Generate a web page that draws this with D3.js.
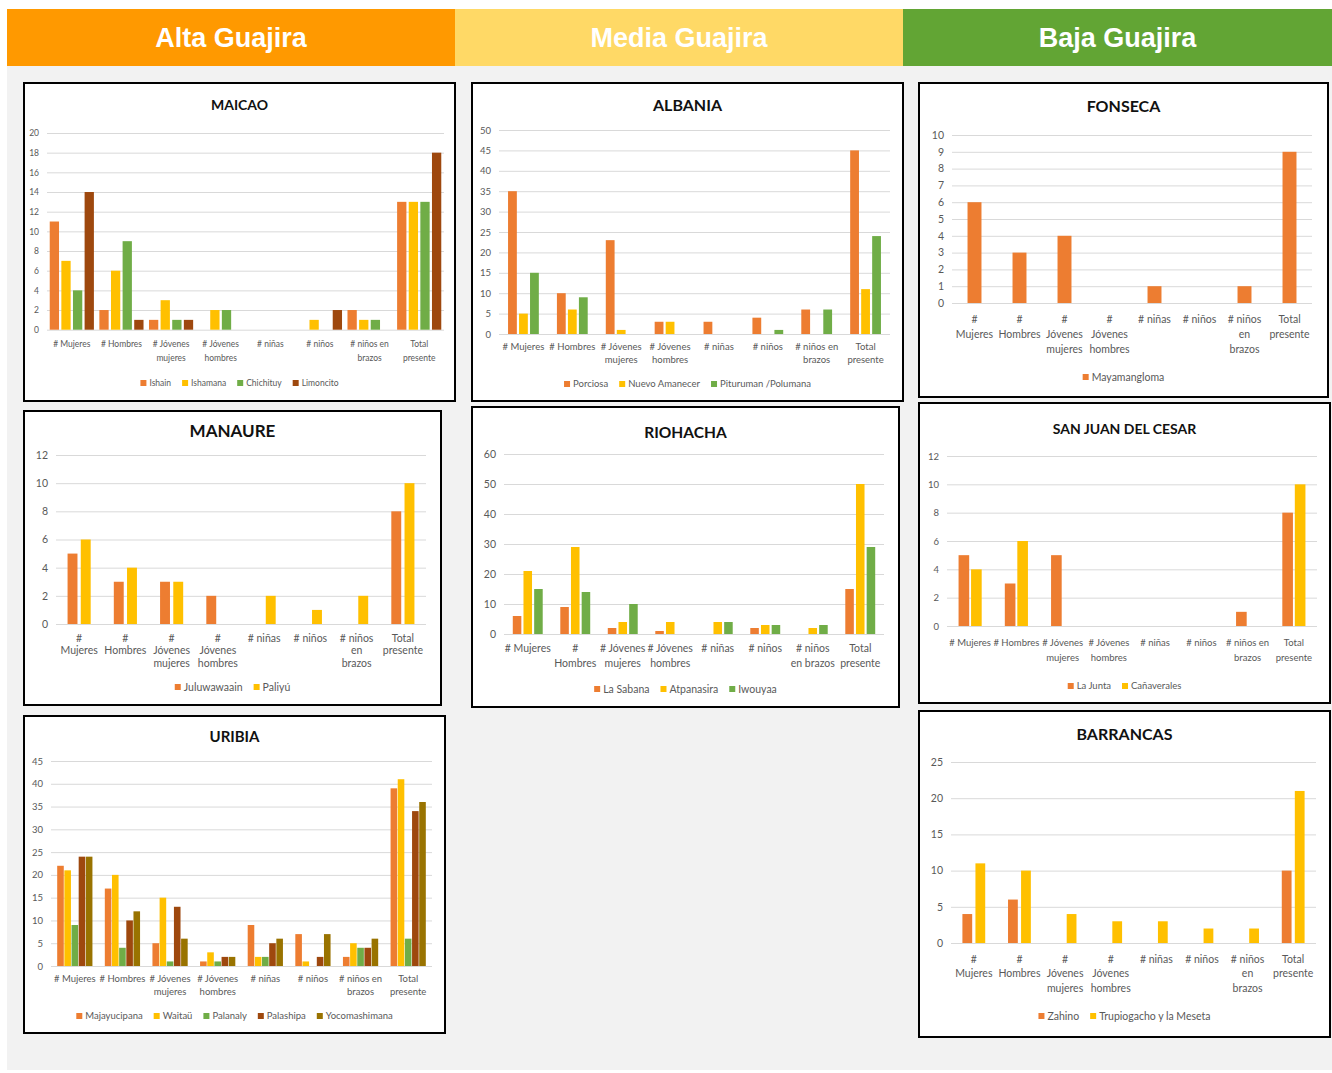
<!DOCTYPE html>
<html>
<head>
<meta charset="utf-8">
<script src="https://cdn.jsdelivr.net/npm/d3@7"></script>
<style>
  body { margin: 0; background: #fff; }
  svg text { font-family: Lato, "Liberation Sans", sans-serif; }
</style>
</head>
<body>
<svg id="chart" width="1332" height="1073"></svg>
<script>
// ---- data ----
const regions = ["Alta Guajira", "Media Guajira", "Baja Guajira"];

const labelsWide = ["# Mujeres", "# Hombres", "# Jóvenes|mujeres", "# Jóvenes|hombres", "# niñas", "# niños", "# niños en|brazos", "Total|presente"];
const labelsNarrow = ["#|Mujeres", "#|Hombres", "#|Jóvenes|mujeres", "#|Jóvenes|hombres", "# niñas", "# niños", "# niños|en|brazos", "Total|presente"];
const labelsRiohacha = ["# Mujeres", "#|Hombres", "# Jóvenes|mujeres", "# Jóvenes|hombres", "# niñas", "# niños", "# niños|en brazos", "Total|presente"];

const maicaoNames = ["Ishain", "Ishamana", "Chichituy", "Limoncito"];
const maicaoValues = [
  [11, 2, 1, 0, 0, 0, 2, 13],
  [7, 6, 3, 2, 0, 1, 1, 13],
  [4, 9, 1, 2, 0, 0, 1, 13],
  [14, 1, 1, 0, 0, 2, 0, 18]
];

const albaniaNames = ["Porciosa", "Nuevo Amanecer", "Pituruman /Polumana"];
const albaniaValues = [
  [35, 10, 23, 3, 3, 4, 6, 45],
  [5, 6, 1, 3, 0, 0, 0, 11],
  [15, 9, 0, 0, 0, 1, 6, 24]
];

const fonsecaNames = ["Mayamangloma"];
const fonsecaValues = [
  [6, 3, 4, 0, 1, 0, 1, 9]
];

const manaureNames = ["Juluwawaain", "Paliyú"];
const manaureValues = [
  [5, 3, 3, 2, 0, 0, 0, 8],
  [6, 4, 3, 0, 2, 1, 2, 10]
];

const riohachaNames = ["La Sabana", "Atpanasira", "Iwouyaa"];
const riohachaValues = [
  [6, 9, 2, 1, 0, 2, 0, 15],
  [21, 29, 4, 4, 4, 3, 2, 50],
  [15, 14, 10, 0, 4, 3, 3, 29]
];

const sanJuanNames = ["La Junta", "Cañaverales"];
const sanJuanValues = [
  [5, 3, 5, 0, 0, 0, 1, 8],
  [4, 6, 0, 0, 0, 0, 0, 10]
];

const uribiaNames = ["Majayucipana", "Waitaü", "Palanaly", "Palashipa", "Yocomashimana"];
const uribiaValues = [
  [22, 17, 5, 1, 9, 7, 2, 39],
  [21, 20, 15, 3, 2, 1, 5, 41],
  [9, 4, 1, 1, 2, 0, 4, 6],
  [24, 10, 13, 2, 5, 2, 4, 34],
  [24, 12, 6, 2, 6, 7, 6, 36]
];

const barrancasNames = ["Zahino", "Trupiogacho y la Meseta"];
const barrancasValues = [
  [4, 6, 0, 0, 0, 0, 0, 10],
  [11, 10, 4, 3, 3, 2, 2, 21]
];

// ---- styles / layout ----
const regionColors = ["#FF9900", "#FFD966", "#62A534"];
const regionEdges = [7, 455, 903, 1332];
const seriesColors = ["#ED7D31", "#FFC000", "#70AD47", "#9E480E", "#997300"];

const charts = [
  { title: "MAICAO", names: maicaoNames, values: maicaoValues, labels: labelsWide, yMax: 20, yStep: 2,
    box: [24, 83, 455, 401], px: [47, 444], yTop: 133, y0: 329.7, titleY: 105, titleFs: 14, fs: 8.5,
    labelY: 344, lineH: 14, legendY: 383, pad: 0.11, inner: 0.2 },
  { title: "ALBANIA", names: albaniaNames, values: albaniaValues, labels: labelsWide, yMax: 50, yStep: 5,
    box: [472, 83, 903, 401], px: [499, 890], yTop: 130, y0: 334, titleY: 105, titleFs: 16, fs: 9.5,
    labelY: 347, lineH: 13, legendY: 384, pad: 0.37, inner: 0.2 },
  { title: "FONSECA", names: fonsecaNames, values: fonsecaValues, labels: labelsNarrow, yMax: 10, yStep: 1,
    box: [919, 83, 1328, 397], px: [952, 1312], yTop: 135, y0: 303, titleY: 106, titleFs: 16, fs: 10.5,
    labelY: 319, lineH: 15, legendY: 377, pad: 0.69, inner: 0 },
  { title: "MANAURE", names: manaureNames, values: manaureValues, labels: labelsNarrow, yMax: 12, yStep: 2,
    box: [24, 411, 441, 705], px: [56, 426], yTop: 455, y0: 624, titleY: 431, titleFs: 17, fs: 10.5,
    labelY: 638, lineH: 12.5, legendY: 687, pad: 0.5, inner: 0.25 },
  { title: "RIOHACHA", names: riohachaNames, values: riohachaValues, labels: labelsRiohacha, yMax: 60, yStep: 10,
    box: [472, 407, 899, 707], px: [504, 884], yTop: 454, y0: 634, titleY: 433, titleFs: 15.5, fs: 10.5,
    labelY: 648, lineH: 15, legendY: 689, pad: 0.37, inner: 0.2 },
  { title: "SAN JUAN DEL CESAR", names: sanJuanNames, values: sanJuanValues, labels: labelsWide, yMax: 12, yStep: 2,
    box: [919, 403, 1330, 703], px: [947, 1317], yTop: 456, y0: 626, titleY: 429, titleFs: 14, fs: 9.5,
    labelY: 643, lineH: 15, legendY: 686, pad: 0.5, inner: 0.15 },
  { title: "URIBIA", names: uribiaNames, values: uribiaValues, labels: labelsWide, yMax: 45, yStep: 5,
    box: [24, 716, 445, 1033], px: [51, 432], yTop: 761, y0: 966, titleY: 737, titleFs: 15, fs: 9.5,
    labelY: 979, lineH: 13, legendY: 1016, pad: 0.26, inner: 0.08 },
  { title: "BARRANCAS", names: barrancasNames, values: barrancasValues, labels: labelsNarrow, yMax: 25, yStep: 5,
    box: [919, 711, 1330, 1037], px: [951, 1316], yTop: 762, y0: 943, titleY: 734, titleFs: 16, fs: 10.5,
    labelY: 959, lineH: 14.5, legendY: 1016, pad: 0.5, inner: 0.25 }
];

const svg = d3.select("#chart");

// background panel
svg.append("rect")
  .attr("x", 7).attr("y", 66).attr("width", 1325).attr("height", 1004)
  .attr("fill", "#F2F2F2");

// region header
const headG = svg.append("g").selectAll("g").data(regions).join("g");
headG.append("rect")
  .attr("x", (d, i) => regionEdges[i]).attr("y", 9)
  .attr("width", (d, i) => regionEdges[i + 1] - regionEdges[i]).attr("height", 57)
  .attr("fill", (d, i) => regionColors[i]);
headG.append("text")
  .attr("x", (d, i) => (regionEdges[i] + regionEdges[i + 1]) / 2).attr("y", 47)
  .attr("text-anchor", "middle")
  .attr("fill", "#fff")
  .style("font-family", "'Liberation Sans', Arial, sans-serif")
  .style("font-weight", "bold").style("font-size", "27px")
  .text(d => d);

// ---- each chart ----
charts.forEach(drawChart);

function drawChart(c) {
  const [bx0, by0, bx1, by1] = c.box;
  const g = svg.append("g");

  g.append("rect")
    .attr("x", bx0).attr("y", by0)
    .attr("width", bx1 - bx0).attr("height", by1 - by0)
    .attr("fill", "#fff").attr("stroke", "#000").attr("stroke-width", 2);

  g.append("text")
    .attr("x", (bx0 + bx1) / 2).attr("y", c.titleY)
    .attr("dy", "0.35em").attr("text-anchor", "middle")
    .style("font-weight", "bold").style("font-size", c.titleFs + "px")
    .attr("fill", "#111")
    .text(c.title);

  const y = d3.scaleLinear().domain([0, c.yMax]).range([c.y0, c.yTop]);
  const x = d3.scaleBand().domain(d3.range(c.labels.length))
    .range(c.px).paddingInner(c.pad).paddingOuter(c.pad / 2);
  const xi = d3.scaleBand().domain(d3.range(c.names.length))
    .range([0, x.bandwidth()]).paddingInner(c.inner);

  // gridlines + y labels
  const ticks = d3.range(0, c.yMax + c.yStep / 2, c.yStep);
  const yAxis = d3.axisLeft(y).tickValues(ticks).tickSize(-(c.px[1] - c.px[0])).tickPadding(8);
  const ax = g.append("g").attr("transform", `translate(${c.px[0]},0)`).call(yAxis);
  ax.select(".domain").remove();
  ax.selectAll("line").attr("stroke", "#D9D9D9");
  ax.selectAll("text").attr("fill", "#595959")
    .style("font-size", c.fs + "px").style("font-family", "Lato, sans-serif");

  // bars (zero values leave no mark)
  c.values.forEach((vals, s) => {
    g.append("g").selectAll("rect")
      .data(vals.map((v, j) => ({ v, j })).filter(d => d.v > 0))
      .join("rect")
      .attr("x", d => x(d.j) + xi(s))
      .attr("y", d => y(d.v))
      .attr("width", xi.bandwidth())
      .attr("height", d => y(0) - y(d.v))
      .attr("fill", seriesColors[s]);
  });

  // category labels, "|" marks a line break
  const lab = g.append("g").selectAll("text").data(c.labels).join("text")
    .attr("text-anchor", "middle")
    .attr("fill", "#595959")
    .style("font-size", c.fs + "px");
  lab.each(function (d, j) {
    const t = d3.select(this);
    d.split("|").forEach((line, k) => {
      t.append("tspan")
        .attr("x", x(j) + x.bandwidth() / 2)
        .attr("y", c.labelY + k * c.lineH)
        .attr("dy", "0.35em")
        .text(line);
    });
  });

  // legend
  const leg = g.append("g");
  const items = leg.selectAll("g").data(c.names).join("g");
  items.append("rect").attr("width", 6).attr("height", 6).attr("y", -3)
    .attr("fill", (d, i) => seriesColors[i]);
  items.append("text").attr("x", 9).attr("dy", "0.35em")
    .attr("fill", "#595959").style("font-size", c.fs + "px")
    .text(d => d);
  let cx = 0;
  const offs = [];
  items.each(function () {
    offs.push(cx);
    cx += 9 + this.querySelector("text").getComputedTextLength() + 11;
  });
  const total = cx - 11;
  const start = (bx0 + bx1) / 2 - total / 2;
  items.attr("transform", (d, i) => `translate(${start + offs[i]},${c.legendY})`);
}
</script>
</body>
</html>
